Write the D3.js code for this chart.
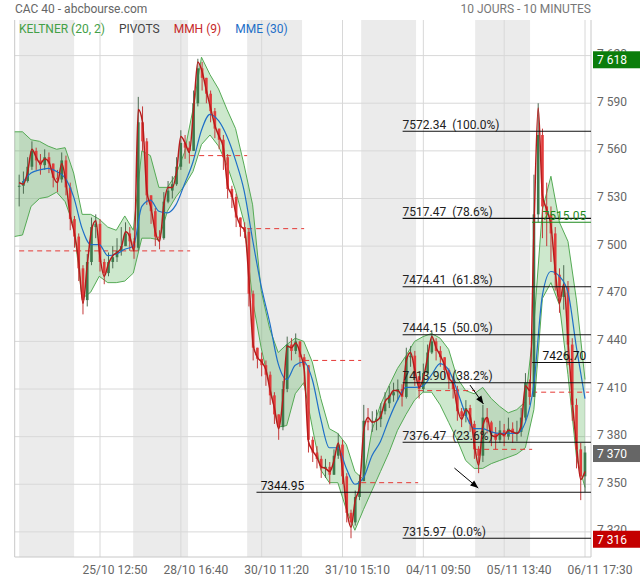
<!DOCTYPE html>
<html><head><meta charset="utf-8">
<script src="https://cdn.jsdelivr.net/npm/d3@7/dist/d3.min.js"></script>
<style>
html,body{margin:0;padding:0;background:#fff;}
svg text{font-family:Roboto,"Liberation Sans",Arial,sans-serif;font-size:12px;}
</style></head><body>
<svg id="chart" width="640" height="580"></svg>
<script>
// ---------- data ----------
const days = ["23/10","24/10","25/10","28/10","29/10","30/10","31/10","01/11","04/11","05/11","06/11"];
const shadedDays = ["24/10","28/10","30/10","01/11","05/11"];
const xTickDays  = ["25/10","28/10","30/10","31/10","04/11","05/11","06/11"];
const xTickTimes = ["12:50","16:40","11:20","15:10","09:50","13:40","17:30"];
const yTicks = [7320,7350,7380,7410,7440,7470,7500,7530,7560,7590,7620];

// candles: evenly spaced samples from 24/10 09:00 to 06/11 17:30
const candleStart = ["24/10","09:00"], candleEnd = ["06/11","17:30"];
const closes = [7538,7541,7550,7560,7554,7551,7556,7552,7543,7542,
 7554,7537,7517,7506,7486,7466,7490,7512,7514,7490,
 7483,7490,7493,7497,7500,7508,7503,7499,7578,7566,
 7532,7522,7506,7505,7528,7535,7539,7550,7565,7562,
 7560,7590,7612,7606,7596,7585,7574,7567,7556,7536,
 7531,7518,7512,7509,7470,7436,7429,7425,7419,7406,
 7394,7386,7410,7438,7434,7440,7430,7425,7378,7370,
 7366,7360,7361,7356,7368,7375,7355,7332,7326,7342,
 7352,7390,7389,7390,7391,7396,7401,7406,7408,7410,
 7405,7430,7431,7418,7410,7420,7433,7440,7434,7430,
 7422,7416,7410,7396,7393,7398,7388,7372,7368,7392,
 7389,7382,7378,7384,7380,7385,7382,7383,7392,7414,
 7405,7520,7570,7525,7520,7508,7482,7468,7474,7438,
 7400,7372,7355,7370];
const highs = [7545,7547,7556,7566,7562,7558,7561,7559,7552,7548,
 7559,7557,7540,7519,7508,7488,7495,7518,7520,7517,
 7492,7496,7500,7505,7512,7515,7512,7505,7594,7588,
 7568,7532,7524,7510,7534,7541,7544,7556,7573,7570,
 7566,7598,7618,7616,7606,7598,7587,7574,7570,7558,
 7538,7533,7518,7515,7511,7472,7436,7433,7428,7421,
 7408,7392,7415,7443,7442,7445,7440,7432,7425,7380,
 7374,7368,7366,7364,7372,7382,7378,7357,7334,7346,
 7356,7400,7398,7396,7397,7401,7408,7412,7414,7416,
 7413,7436,7437,7434,7418,7426,7438,7447,7442,7437,
 7430,7423,7418,7412,7398,7403,7400,7390,7374,7400,
 7398,7390,7386,7390,7388,7392,7389,7390,7398,7420,
 7416,7545,7590,7574,7540,7525,7512,7486,7488,7478,
 7442,7404,7376,7374];
const lows = [7525,7533,7540,7548,7548,7545,7548,7546,7537,7534,
 7540,7532,7510,7499,7478,7457,7462,7488,7505,7484,
 7476,7481,7486,7490,7494,7500,7497,7492,7497,7560,
 7526,7514,7500,7498,7504,7527,7530,7538,7548,7555,
 7552,7560,7588,7598,7590,7578,7568,7561,7548,7530,
 7524,7512,7506,7505,7462,7428,7423,7418,7412,7400,
 7388,7378,7384,7408,7428,7432,7424,7412,7370,7364,
 7360,7354,7354,7350,7356,7366,7350,7326,7316,7324,
 7340,7352,7384,7383,7384,7386,7394,7398,7402,7403,
 7399,7404,7424,7412,7404,7408,7420,7432,7428,7424,
 7417,7410,7404,7390,7386,7389,7383,7366,7357,7364,
 7382,7374,7372,7376,7374,7378,7376,7377,7380,7390,
 7400,7405,7515,7505,7500,7490,7472,7458,7460,7425,
 7390,7360,7340,7345];
// MMH (9) - same sampling as candles
const mmh = [7540,7539,7547,7561,7556,7552,7555,7553,7544,7540,
 7552,7540,7519,7508,7490,7464,7488,7510,7516,7493,
 7481,7489,7494,7496,7499,7509,7506,7497,7586,7578,
 7535,7524,7509,7503,7526,7537,7537,7547,7569,7565,
 7559,7586,7616,7610,7598,7587,7576,7569,7562,7538,
 7532,7520,7513,7510,7479,7438,7430,7427,7422,7409,
 7398,7385,7404,7437,7436,7439,7433,7422,7377,7371,
 7367,7361,7360,7358,7365,7376,7359,7334,7323,7340,
 7348,7384,7392,7389,7390,7393,7402,7405,7409,7409,
 7406,7428,7433,7422,7411,7417,7430,7443,7436,7431,
 7425,7417,7413,7398,7391,7397,7393,7375,7362,7387,
 7392,7381,7380,7382,7381,7384,7383,7382,7387,7412,
 7409,7510,7587,7532,7523,7513,7485,7464,7476,7441,
 7403,7375,7353,7358];

// Keltner (20,2) and MME (30): evenly spaced samples from 23/10 17:20 to 06/11 17:30
const bandStart = ["23/10","17:20"], bandEnd = ["06/11","17:30"];
const keltnerUpper = [7572,7572,7567,7566,7563,7561,7562,7546,7520,7520,
 7517,7512,7510,7519,7510,7560,7557,7537,7537,7545,
 7559,7586,7619,7608,7599,7586,7574,7551,7526,7472,
 7448,7433,7438,7442,7440,7427,7404,7385,7382,7375,
 7358,7353,7384,7400,7412,7423,7431,7440,7443,7445,
 7442,7435,7417,7409,7407,7411,7404,7399,7395,7397,
 7402,7450,7523,7544,7515,7503,7466,7416];
const keltnerLower = [7506,7507,7525,7530,7531,7534,7528,7513,7467,7471,
 7481,7477,7477,7478,7483,7505,7505,7504,7522,7531,
 7538,7547,7564,7570,7563,7551,7535,7515,7466,7436,
 7412,7386,7387,7407,7414,7386,7359,7351,7351,7334,
 7321,7334,7346,7358,7370,7384,7394,7403,7408,7408,
 7400,7389,7378,7365,7360,7360,7363,7365,7367,7369,
 7373,7397,7467,7477,7463,7419,7367,7348];
const mme = [null,7540,7546,7548,7549,7547,7543,7531,7511,7501,
 7501,7494,7495,7498,7500,7525,7529,7522,7521,7526,
 7539,7553,7573,7583,7579,7569,7554,7535,7504,7475,
 7452,7426,7416,7425,7427,7416,7391,7373,7373,7360,
 7350,7354,7368,7377,7391,7403,7411,7411,7412,7419,
 7426,7422,7409,7394,7385,7385,7383,7382,7382,7382,
 7389,7413,7469,7484,7481,7471,7436,7404];

// pivots per day
const pivotDays = ["24/10","25/10","28/10","29/10","30/10","31/10","01/11","04/11","05/11","06/11"];
const pivotValues = [7497,7497,7497,7557,7511,7428,7351,7409,7372,7408];

// Fibonacci retracement
const fibValues = [7572.34,7517.47,7474.41,7444.15,7413.90,7376.47,7315.97];
const fibPercents = ["100.0%","78.6%","61.8%","50.0%","38.2%","23.6%","0.0%"];
const fibFrom = ["01/11","15:40"];

// other horizontal lines
const hLineValues = [7344.95,7426.70,7515.05];
const hLineFrom = [["30/10","10:30"],["06/11","09:00"],["06/11","09:00"]];
const hLineLabelAt = [["30/10","11:10"],["06/11","10:40"],["06/11","10:40"]];
const hLineColors = ["#111","#111","#1d8a1d"];

// arrows [day,time,price]
const arrowFrom = [["04/11","17:20",7412.5],["04/11","14:50",7360.2]];
const arrowTo   = [["05/11","10:20",7400.6],["05/11","09:30",7347.6]];

const legendLabels = ["KELTNER (20, 2)","PIVOTS","MMH (9)","MME (30)"];
const legendColors = ["#43a047","#444444","#c62828","#1e6fc8"];

// ---------- scales ----------
const SLOTS_PER_DAY = 55;
function slot(day, time){
  const d = days.indexOf(day) - 1;
  const [h,m] = time.split(":").map(Number);
  return d*SLOTS_PER_DAY + ((h-9)*60+m)/10;
}
const L=14.7, R=591, T=20, B=557;
const x = d3.scaleLinear().domain([slot("25/10","12:50"), slot("06/11","17:30")]).range([100,585]);
const y = d3.scaleLinear().domain([7320,7620]).range([531.9,55.6]);

const svg = d3.select("#chart");
const fmt = v => d3.format(",")(v).replace(/,/g," ");

// shaded days
svg.append("g").selectAll("rect").data(shadedDays).join("rect")
  .attr("x", d => x(slot(d,"09:00")))
  .attr("width", d => x(slot(d,"09:00")+53) - x(slot(d,"09:00")))
  .attr("y", T).attr("height", B-T).attr("fill","#ebebeb");

// grid
const grid = svg.append("g").attr("stroke","#d8d8d8").attr("stroke-width",1);
grid.selectAll("line.h").data(yTicks).join("line").attr("class","h")
  .attr("x1",L).attr("x2",R).attr("y1",d=>y(d)).attr("y2",d=>y(d));
grid.selectAll("line.v").data(xTickDays).join("line").attr("class","v")
  .attr("x1",(d,i)=>x(slot(d,xTickTimes[i]))).attr("x2",(d,i)=>x(slot(d,xTickTimes[i])))
  .attr("y1",T).attr("y2",B);
const frame = svg.append("g").attr("stroke","#c8c8c8").attr("stroke-width",1);
frame.append("line").attr("x1",L).attr("x2",L).attr("y1",T).attr("y2",B);
frame.append("line").attr("x1",L).attr("x2",R).attr("y1",B).attr("y2",B);
frame.append("line").attr("x1",R).attr("x2",R).attr("y1",T).attr("y2",B);

svg.append("clipPath").attr("id","plot").append("rect").attr("x",L).attr("y",T).attr("width",R-L).attr("height",B-T);
const plot = svg.append("g").attr("clip-path","url(#plot)");

// time positions of samples
const bt0 = slot(...bandStart), bt1 = slot(...bandEnd);
const bandT = keltnerUpper.map((_,i)=> bt0 + i*(bt1-bt0)/(keltnerUpper.length-1));
const ct0 = slot(...candleStart), ct1 = slot(...candleEnd);
const candleT = closes.map((_,i)=> ct0 + i*(ct1-ct0)/(closes.length-1));

// Keltner
const kIdx = d3.range(keltnerUpper.length);
plot.append("path").datum(kIdx)
  .attr("d", d3.area().x(i=>x(bandT[i])).y0(i=>y(keltnerLower[i])).y1(i=>y(keltnerUpper[i])))
  .attr("fill","#2e9e2e").attr("fill-opacity",0.24);
[keltnerUpper,keltnerLower].forEach(arr=>{
  plot.append("path").datum(kIdx)
    .attr("d", d3.line().x(i=>x(bandT[i])).y(i=>y(arr[i])))
    .attr("fill","none").attr("stroke","#55aa55").attr("stroke-width",1);
});

// pivots
plot.append("g").selectAll("line").data(pivotDays).join("line")
  .attr("x1", d=>x(slot(d,"09:00"))).attr("x2", d=>x(slot(d,"09:00")+SLOTS_PER_DAY))
  .attr("y1",(d,i)=>y(pivotValues[i])).attr("y2",(d,i)=>y(pivotValues[i]))
  .attr("stroke","#e53935").attr("stroke-width",1).attr("stroke-dasharray","5,4");

// candles
const step = x(candleT[1]) - x(candleT[0]);
const bw = step*0.62;
const cg = plot.append("g");
closes.forEach((c,i)=>{
  const o = i===0 ? c : closes[i-1];
  const up = c >= o;
  const col = up ? "#3d7a4c" : "#e23b3b";
  const cx = x(candleT[i]);
  const hi = Math.max(highs[i],o,c), lo = Math.min(lows[i],o,c);
  cg.append("line").attr("x1",cx).attr("x2",cx).attr("y1",y(hi)).attr("y2",y(lo))
    .attr("stroke", up ? "#4d6b52" : "#c43a3a").attr("stroke-width",1);
  const top = y(Math.max(o,c)), bot = y(Math.min(o,c));
  cg.append("rect").attr("x",cx-bw/2).attr("width",bw)
    .attr("y",top).attr("height",Math.max(1,bot-top)).attr("fill",col);
});

// MME
plot.append("path").datum(kIdx)
  .attr("d", d3.line().defined(i=>mme[i]!==null).x(i=>x(bandT[i])).y(i=>y(mme[i])).curve(d3.curveMonotoneX))
  .attr("fill","none").attr("stroke","#1e6fc8").attr("stroke-width",1.2);
// MMH
plot.append("path").datum(d3.range(mmh.length))
  .attr("d", d3.line().x(i=>x(candleT[i])).y(i=>y(mmh[i])).curve(d3.curveMonotoneX))
  .attr("fill","none").attr("stroke","#b71c1c").attr("stroke-width",1.5);

// fib lines
const fx = x(slot(...fibFrom));
const fg = svg.append("g");
fibValues.forEach((v,i)=>{
  fg.append("line").attr("x1",fx).attr("x2",R).attr("y1",y(v)).attr("y2",y(v))
    .attr("stroke","#111").attr("stroke-width",1.1);
  fg.append("text").attr("x",fx).attr("y",y(v)-2.5).attr("fill","#222")
    .text(v.toFixed(2)+"\u00a0\u00a0("+fibPercents[i]+")");
});
hLineValues.forEach((v,i)=>{
  fg.append("line").attr("x1",x(slot(...hLineFrom[i]))).attr("x2",R).attr("y1",y(v)).attr("y2",y(v))
    .attr("stroke",hLineColors[i]).attr("stroke-width",1.1);
  fg.append("text").attr("x",x(slot(...hLineLabelAt[i]))).attr("y",y(v)-2.5).attr("fill",hLineColors[i])
    .text(v.toFixed(2));
});

// arrows
svg.append("defs").append("marker").attr("id","ah").attr("viewBox","0 -5 10 10")
  .attr("refX",10).attr("refY",0).attr("markerWidth",10).attr("markerHeight",8)
  .attr("markerUnits","userSpaceOnUse").attr("orient","auto")
  .append("path").attr("d","M0,-4L10,0L0,4Z").attr("fill","#000");
arrowFrom.forEach((a,i)=>{
  const b = arrowTo[i];
  svg.append("line").attr("x1",x(slot(a[0],a[1]))).attr("y1",y(a[2]))
    .attr("x2",x(slot(b[0],b[1]))).attr("y2",y(b[2]))
    .attr("stroke","#000").attr("stroke-width",1).attr("marker-end","url(#ah)");
});

// y axis labels
svg.append("g").selectAll("text").data(yTicks).join("text")
  .attr("x",597).attr("y",d=>y(d)+2.5).attr("fill","#666").text(d=>fmt(d));
// x axis labels
svg.append("g").selectAll("text").data(xTickDays).join("text")
  .attr("x",(d,i)=>x(slot(d,xTickTimes[i]))+15).attr("y",573.5).attr("text-anchor","middle")
  .attr("fill","#666").text((d,i)=>d+" "+xTickTimes[i]);

// value boxes
const boxes = [[d3.max(highs),"#0b7d0b"],[closes[closes.length-1],"#666666"],[d3.min(lows),"#c40000"]];
boxes.forEach(([v,col])=>{
  const cy = y(v)+1;
  svg.append("rect").attr("x",593).attr("y",cy-8.5).attr("width",47).attr("height",17).attr("fill",col);
  svg.append("text").attr("x",597).attr("y",cy+4.3).attr("fill","#fff").text(fmt(v));
});

// title
svg.append("text").attr("x",15).attr("y",13).attr("fill","#666").text("CAC 40 - abcbourse.com");
svg.append("text").attr("x",591).attr("y",13).attr("text-anchor","end").attr("fill","#777").text("10 JOURS - 10 MINUTES");
// legend
let lx = 19;
legendLabels.forEach((t,i)=>{
  const el = svg.append("text").attr("x",lx).attr("y",33).attr("fill",legendColors[i]).text(t);
  lx += el.node().getComputedTextLength() + 14;
});
</script></body></html>
